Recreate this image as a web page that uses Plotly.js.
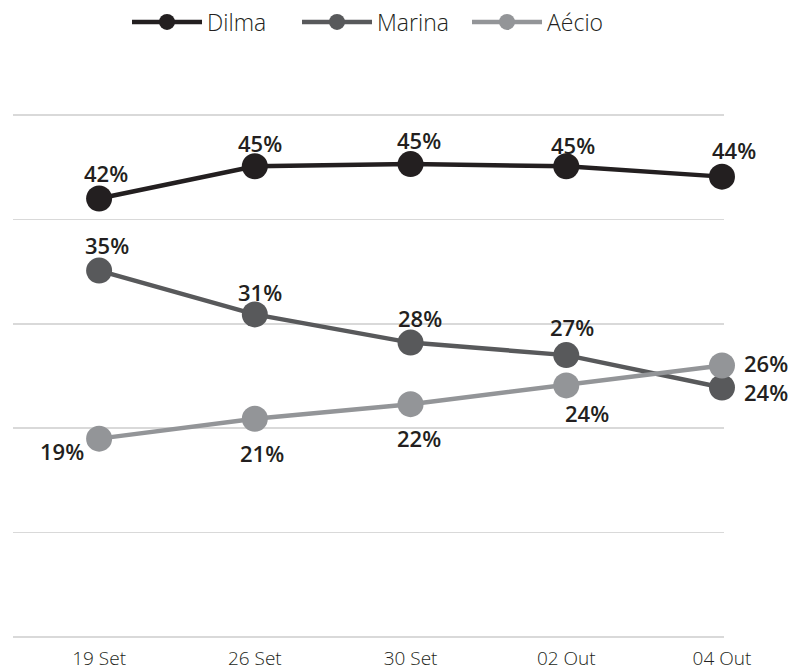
<!DOCTYPE html>
<html>
<head>
<meta charset="utf-8">
<script src="https://cdn.plot.ly/plotly-3.0.1.min.js"></script>
<style>html,body{margin:0;padding:0;background:#fff;}#chart{width:789px;height:672px;}</style>
</head>
<body>
<div id="chart"></div>
<script>
// ---- data ----
const dates = ["19 Set", "26 Set", "30 Set", "02 Out", "04 Out"];
const dilma = [42.0, 45.1, 45.3, 45.1, 44.1];
const marina = [35.1, 30.9, 28.2, 27.0, 23.9];
const aecio = [19.0, 20.9, 22.3, 24.1, 26.0];
const dilmaLabels = ["42%", "45%", "45%", "45%", "44%"];
const marinaLabels = ["35%", "31%", "28%", "27%", "24%"];
const aecioLabels = ["19%", "21%", "22%", "24%", "26%"];

// ---- styling ----
const colors = {Dilma: "#231f20", Marina: "#58595b", "Aécio": "#939598"};
// label offsets in pixels [dx, dy] (dy positive = down)
const dilmaOff = [[7, -26], [5, -23], [8, -24], [7, -21], [12, -27]];
const marinaOff = [[8, -26], [5, -22], [9, -25], [6, -28], [44, 5]];
const aecioOff = [[-37, 12], [7, 34], [8, 34], [21, 28], [44, -3]];

function mk(name, vals) {
  return {
    type: "scatter", mode: "lines+markers", name: name,
    x: dates, y: vals,
    line: {color: colors[name], width: 4.5},
    marker: {color: colors[name], size: 26},
    cliponaxis: false, hoverinfo: "skip"
  };
}
const traces = [mk("Dilma", dilma), mk("Marina", marina), mk("Aécio", aecio)];

const annotations = [];
const labelFont = {family: "Open Sans, sans-serif", size: 22, color: "#231f20", weight: 600};
[[dilma, dilmaLabels, dilmaOff], [marina, marinaLabels, marinaOff], [aecio, aecioLabels, aecioOff]].forEach(([vals, labs, offs]) => {
  vals.forEach((v, i) => {
    annotations.push({
      x: dates[i], y: v, xref: "x", yref: "y", text: labs[i], showarrow: false,
      xshift: offs[i][0], yshift: -offs[i][1], font: labelFont
    });
  });
});

const layout = {
  width: 789, height: 672,
  margin: {l: 13, r: 65, t: 114, b: 34},
  paper_bgcolor: "#fff", plot_bgcolor: "#fff",
  showlegend: true,
  legend: {
    orientation: "h", x: 0.519, xanchor: "center", xref: "paper",
    y: 1 - 22 / 672, yanchor: "middle", yref: "container",
    font: {family: "Open Sans, sans-serif", size: 23, color: "#231f20", weight: 300},
    itemwidth: 70, entrywidth: 85, entrywidthmode: "pixels",
    traceorder: "normal", tracegroupgap: 0
  },
  xaxis: {
    type: "category", range: [-0.553, 4.013],
    showgrid: false, zeroline: false, showline: false, ticks: "",
    tickfont: {family: "Open Sans, sans-serif", size: 19, color: "#231f20", weight: 300},
    ticklabelstandoff: 7
  },
  yaxis: {
    range: [-0.1, 50.1], dtick: 10, tick0: 0,
    showgrid: true, gridcolor: "#d9d9d9", gridwidth: 1.5,
    zeroline: false, showline: false, showticklabels: false, ticks: ""
  },
  annotations: annotations
};

Plotly.newPlot("chart", traces, layout, {displayModeBar: false, staticPlot: true});
</script>
</body>
</html>
